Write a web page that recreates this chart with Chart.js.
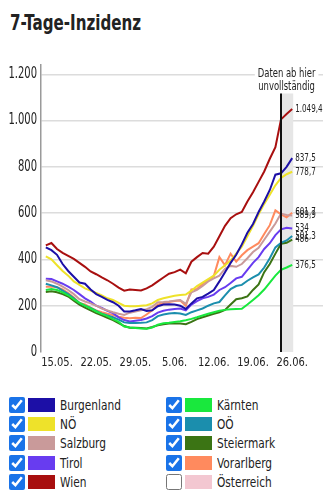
<!DOCTYPE html>
<html>
<head>
<meta charset="utf-8">
<script src="https://cdn.jsdelivr.net/npm/chart.js@4"></script>
<style>
  body { margin: 0; width: 333px; height: 500px; background: #fff; position: relative; overflow: hidden;
         font-family: 'DejaVu Sans Condensed', 'Liberation Sans Narrow', 'Roboto', sans-serif; color: #222; }
  h1 { position: absolute; left: 10px; top: 13px; margin: 0; font-size: 20.5px; line-height: 21px; font-weight: bold;
       transform: scaleX(0.82); transform-origin: left; white-space: nowrap; }
  #wrap { position: absolute; left: 0; top: 60px; width: 333px; height: 315px; }
  #legend { position: absolute; left: 9px; top: 395px; display: grid; grid-template-columns: 157px 150px; }
  .item { display: flex; align-items: center; height: 19.3px; font-size: 14px; white-space: nowrap; }
  .item input { width: 16px; height: 16px; margin: 0; accent-color: #1a73e8; }
  .item .sw { width: 27px; height: 14px; margin: 0 5px 0 3px; }
  .item .txt { display: inline-block; transform: scaleX(0.84); transform-origin: left; }
</style>
</head>
<body>
<h1>7-Tage-Inzidenz</h1>
<div id="wrap"><canvas id="chart"></canvas></div>
<div id="legend"></div>
<script>
const dates = ['13.05.', '14.05.', '15.05.', '16.05.', '17.05.', '18.05.', '19.05.', '20.05.', '21.05.', '22.05.',
    '23.05.', '24.05.', '25.05.', '26.05.', '27.05.', '28.05.', '29.05.', '30.05.', '31.05.', '1.06.',
    '2.06.', '3.06.', '4.06.', '5.06.', '6.06.', '7.06.', '8.06.', '9.06.', '10.06.', '11.06.',
    '12.06.', '13.06.', '14.06.', '15.06.', '16.06.', '17.06.', '18.06.', '19.06.', '20.06.', '21.06.',
    '22.06.', '23.06.', '24.06.', '25.06.', '26.06.']
const tickLabels = ['15.05.', '22.05.', '29.05.', '5.06.', '12.06.', '19.06.', '26.06.']
const yTicks = [0, 200, 400, 600, 800, 1000, 1200]
const incompleteFrom = '24.06.'

const regions = ['Burgenland', 'Kärnten', 'NÖ', 'OÖ', 'Salzburg', 'Steiermark', 'Tirol', 'Vorarlberg', 'Wien', 'Österreich']
const colors = ['#1c0fa6', '#19e83d', '#eee22a', '#1b8ead', '#c99a9a', '#3b7414', '#683cf0', '#ff8a5e', '#a80f0f', '#f3c7d1']

const burgenland = [452, 440, 420, 380, 350, 325, 300, 295, 270, 250, 238, 225, 215, 200, 175, 175, 180, 186, 177, 180,
    198, 205, 206, 205, 200, 186, 210, 232, 238, 252, 268, 305, 345, 385, 420, 465, 515, 553, 605, 650,
    700, 766, 772, 800, 837.5]
const kaernten = [268, 272, 268, 258, 245, 228, 212, 200, 188, 175, 165, 155, 142, 130, 110, 106, 104, 102, 100, 106,
    118, 124, 126, 130, 133, 137, 143, 150, 158, 165, 172, 178, 182, 185, 186, 187, 205, 225, 245, 270,
    300, 330, 355, 365, 376.5]
const noe = [413, 400, 375, 350, 330, 305, 290, 275, 265, 255, 245, 232, 225, 212, 200, 198, 198, 200, 202, 210,
    225, 232, 238, 243, 246, 248, 265, 285, 300, 315, 330, 355, 375, 395, 425, 455, 500, 545, 595, 640,
    680, 720, 752, 768, 778.7]
const ooe = [295, 288, 280, 265, 250, 232, 212, 200, 190, 178, 165, 158, 150, 140, 128, 125, 125, 126, 128, 138,
    155, 162, 166, 168, 166, 160, 172, 180, 188, 200, 210, 216, 245, 272, 285, 290, 308, 322, 335, 365,
    405, 452, 472, 482, 501.3]
const salzburg = [310, 305, 295, 282, 268, 250, 228, 218, 210, 200, 188, 180, 172, 165, 160, 170, 175, 180, 185, 195,
    215, 216, 218, 222, 225, 208, 258, 268, 285, 305, 318, 330, 360, 372, 368, 380, 405, 432, 450, 485,
    520, 555, 598, 592, 589.9]
const steiermark = [259, 262, 258, 250, 240, 222, 205, 192, 180, 168, 158, 148, 138, 125, 112, 105, 105, 104, 102, 108,
    115, 120, 123, 123, 123, 120, 130, 142, 150, 158, 165, 172, 182, 205, 228, 232, 240, 268, 292, 345,
    380, 425, 468, 472, 486]
const tirol = [317, 315, 305, 295, 282, 268, 250, 232, 218, 200, 190, 178, 168, 150, 138, 132, 135, 138, 145, 155,
    170, 178, 183, 186, 188, 180, 205, 220, 232, 238, 248, 268, 280, 298, 318, 325, 355, 385, 410, 445,
    470, 505, 530, 537, 534]
const vorarlberg = [282, 283, 280, 270, 255, 235, 212, 205, 192, 180, 172, 165, 160, 152, 148, 146, 148, 147, 162, 180,
    205, 212, 216, 220, 222, 200, 270, 272, 295, 310, 328, 410, 375, 425, 390, 418, 440, 455, 470, 510,
    548, 612, 595, 582, 601.7]
const wien = [461, 471, 445, 428, 415, 402, 385, 368, 348, 336, 322, 310, 295, 278, 265, 270, 268, 266, 275, 288,
    305, 322, 338, 345, 356, 340, 390, 410, 428, 425, 455, 500, 545, 578, 595, 605, 650, 690, 735, 780,
    835, 885, 1005, 1028, 1049.4]
const oesterreich = []

const series = [burgenland, kaernten, noe, ooe, salzburg, steiermark, tirol, vorarlberg, wien, oesterreich]
const shown = [true, true, true, true, true, true, true, true, true, false]

const font = "'DejaVu Sans Condensed', 'Liberation Sans Narrow', 'Roboto', sans-serif"
const textColor = '#222'

const de = (v) => {
    const [i, d] = String(v).split('.')
    return i.replace(/\B(?=(\d{3})+(?!\d))/g, '.') + (d ? ',' + d : '')
}

// the original uses a very narrow face, so squeeze our text sideways
const squeezed = (ctx, text, x, y, align, sx) => {
    ctx.save()
    ctx.translate(x, y)
    ctx.scale(sx, 1)
    ctx.textAlign = align
    ctx.fillText(text, 0, 0)
    ctx.restore()
}

const datasets = regions.map((name, k) => ({
    label: name,
    data: series[k].map((v, i) => ({ x: i, y: v })),
    borderColor: colors[k],
    backgroundColor: colors[k],
    borderWidth: 2,
    pointRadius: 0,
    tension: 0,
    hidden: !shown[k]
}))

const markerPlugin = {
    id: 'marker',
    beforeDatasetsDraw(chart) {
        const { ctx, scales: { x, y } } = chart
        const x0 = x.getPixelForValue(dates.indexOf(incompleteFrom))
        const x1 = x.getPixelForValue(dates.length - 1) + 1
        ctx.save()
        ctx.fillStyle = '#e6e6e6'
        ctx.fillRect(x0, y.getPixelForValue(1117), x1 - x0, y.getPixelForValue(0) - y.getPixelForValue(1117))
        ctx.restore()
    },
    afterDatasetsDraw(chart) {
        const { ctx, scales: { x, y } } = chart
        const x0 = x.getPixelForValue(dates.indexOf(incompleteFrom))
        ctx.save()
        ctx.strokeStyle = '#111'
        ctx.lineWidth = 2
        ctx.beginPath()
        ctx.moveTo(x0, y.getPixelForValue(1117))
        ctx.lineTo(x0, y.getPixelForValue(0))
        ctx.stroke()

        // note above the marker
        const cx = x.getPixelForValue(dates.length - 2)
        ctx.font = '12px ' + font
        ctx.textBaseline = 'middle'
        const w = ctx.measureText('Daten ab hier').width * 0.78
        ctx.fillStyle = '#fff'
        ctx.fillRect(cx - w / 2 - 3, y.getPixelForValue(1200) - 3, w + 6, 6)
        ctx.fillStyle = textColor
        squeezed(ctx, 'Daten ab hier', cx, y.getPixelForValue(1200), 'center', 0.78)
        squeezed(ctx, 'unvollständig', cx, y.getPixelForValue(1144), 'center', 0.78)

        // end values
        ctx.font = '10.5px ' + font
        chart.data.datasets.forEach((ds, k) => {
            if (!chart.isDatasetVisible(k) || !ds.data.length) return
            const last = ds.data[ds.data.length - 1]
            squeezed(ctx, de(last.y), x.getPixelForValue(last.x) + 3, y.getPixelForValue(last.y), 'left', 0.76)
        })
        ctx.restore()
    },
    afterDraw(chart) {
        const { ctx, scales: { x, y } } = chart
        ctx.save()
        ctx.fillStyle = textColor
        ctx.textBaseline = 'middle'
        ctx.font = '15px ' + font
        y.ticks.forEach(t => squeezed(ctx, de(t.value), y.right - 4, y.getPixelForValue(t.value), 'right', 0.74))
        ctx.font = '12px ' + font
        x.ticks.forEach(t => squeezed(ctx, dates[t.value], x.getPixelForValue(t.value), y.bottom + 11, 'center', 0.92))
        ctx.restore()
    }
}

const chart = new Chart(document.getElementById('chart'), {
    type: 'line',
    data: { datasets },
    plugins: [markerPlugin],
    options: {
        responsive: true,
        maintainAspectRatio: false,
        animation: false,
        layout: { padding: { top: 5, right: 10, left: 0, bottom: 0 } },
        plugins: { legend: { display: false }, tooltip: { enabled: false } },
        scales: {
            x: {
                type: 'linear',
                min: -0.86,
                max: 49.5,
                grid: { display: false },
                border: { display: false },
                afterFit: (scale) => { scale.height = 23 },
                afterBuildTicks: (scale) => {
                    scale.ticks = tickLabels.map(l => ({ value: dates.indexOf(l) }))
                },
                ticks: { display: false }
            },
            y: {
                min: 0,
                max: 1240,
                afterFit: (scale) => { scale.width = 41 },
                afterBuildTicks: (scale) => {
                    scale.ticks = yTicks.map(v => ({ value: v }))
                },
                grid: {
                    drawTicks: false,
                    lineWidth: 1.5,
                    color: (c) => c.tick && c.tick.value === 0 ? 'rgba(0,0,0,0)' : '#dcdcdc'
                },
                border: { display: true, color: '#9a9a9a', width: 1.5 },
                ticks: { display: false }
            }
        }
    }
})

const legend = document.getElementById('legend')
regions.forEach((name, k) => {
    const item = document.createElement('label')
    item.className = 'item'
    item.innerHTML = `<input type="checkbox" ${shown[k] ? 'checked' : ''}><span class="sw" style="background:${colors[k]}"></span><span class="txt">${name}</span>`
    item.querySelector('input').addEventListener('change', (e) => {
        chart.setDatasetVisibility(k, e.target.checked)
        chart.update()
    })
    legend.appendChild(item)
})
</script>
</body>
</html>
